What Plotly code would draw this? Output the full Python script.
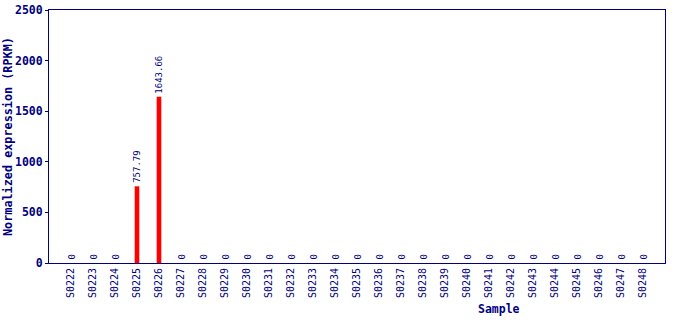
import plotly.graph_objects as go

samples = ["S0222","S0223","S0224","S0225","S0226","S0227","S0228","S0229","S0230",
           "S0231","S0232","S0233","S0234","S0235","S0236","S0237","S0238","S0239",
           "S0240","S0241","S0242","S0243","S0244","S0245","S0246","S0247","S0248"]
values = [0,0,0,757.79,1643.66] + [0]*22
labels = ["%g" % v if v == 0 else "%.2f" % v for v in values]

navy = "#000080"
mono = "DejaVu Sans Mono"

fig = go.Figure(go.Bar(
    x=list(range(len(samples))), y=values,
    marker=dict(color="#ff0000", line=dict(width=0)),
    width=0.21, hoverinfo="x+y",
))
annotations = []
for i, (v, t) in enumerate(zip(values, labels)):
    annotations.append(dict(x=i, y=v, xref="x", yref="y", text=t, textangle=-90,
                            showarrow=False, yanchor="bottom", xanchor="center", yshift=1,
                            font=dict(family=mono, size=9, color=navy)))
annotations.append(dict(text="<b>Sample</b>", x=(499-49)/616, y=-(309-263)/253,
                        xref="paper", yref="paper", showarrow=False,
                        font=dict(family=mono, size=11.5, color=navy),
                        xanchor="center", yanchor="middle"))
annotations.append(dict(text="<b>Normalized expression (RPKM)</b>", x=-(49-8)/616, y=(263-137)/253,
                        xref="paper", yref="paper", showarrow=False, textangle=-90,
                        font=dict(family=mono, size=11.8, color=navy),
                        xanchor="center", yanchor="middle"))
fig.update_layout(
    width=690, height=320, margin=dict(l=49, r=25, t=10, b=57, autoexpand=False),
    paper_bgcolor="white", plot_bgcolor="white", showlegend=False,
    xaxis=dict(range=[-1, 27], tickvals=list(range(len(samples))), ticktext=samples,
               tickangle=-90, tickfont=dict(family=mono, size=10, color=navy),
               showline=True, linecolor=navy, linewidth=1, mirror=True, automargin=False,
               showgrid=False, zeroline=False, ticks=""),
    yaxis=dict(range=[0, 2500], tickvals=[0,500,1000,1500,2000,2500],
               tickfont=dict(family=mono, size=11.5, color=navy, weight="bold"),
               showline=True, linecolor=navy, linewidth=1, mirror=True, automargin=False,
               showgrid=False, zeroline=False, ticks="outside", ticklen=3, tickcolor=navy),
    annotations=annotations,
)
fig.write_html("out.html")
